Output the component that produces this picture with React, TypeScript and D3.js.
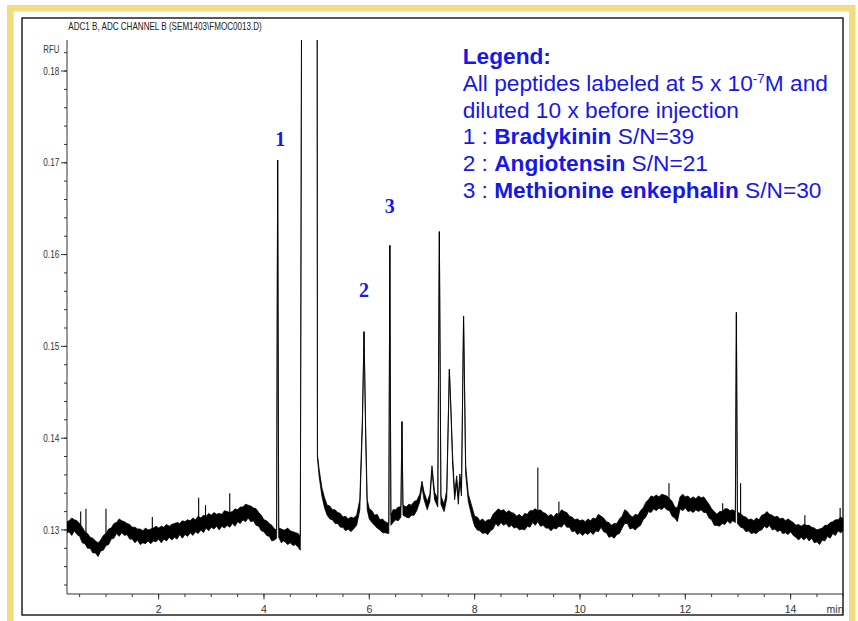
import React from "react";
import * as d3 from "d3";

// [time (min), lower edge of noise band (RFU), upper edge (RFU)]
const trace: [number, number, number][] = [
  [0.26, 0.1297, 0.1309], [0.3, 0.1298, 0.131], [0.35, 0.1294, 0.1313], [0.4, 0.1299, 0.1311],
  [0.45, 0.1295, 0.131], [0.5, 0.1293, 0.1307], [0.55, 0.1286, 0.1303], [0.6, 0.1285, 0.1298],
  [0.65, 0.128, 0.1296], [0.7, 0.128, 0.1292], [0.75, 0.1275, 0.1291], [0.8, 0.1275, 0.1288],
  [0.85, 0.1271, 0.1286], [0.9, 0.1277, 0.1289], [0.95, 0.1278, 0.1294], [1.0, 0.1283, 0.1296],
  [1.05, 0.1284, 0.1301], [1.1, 0.129, 0.1302], [1.15, 0.1291, 0.1307], [1.2, 0.1296, 0.1308],
  [1.25, 0.1293, 0.1312], [1.3, 0.1297, 0.131], [1.35, 0.1294, 0.1309], [1.4, 0.1295, 0.1307],
  [1.45, 0.129, 0.1306], [1.5, 0.129, 0.1303], [1.55, 0.1286, 0.1303], [1.6, 0.1289, 0.1301],
  [1.65, 0.1284, 0.1301], [1.7, 0.1286, 0.1299], [1.75, 0.1285, 0.1302], [1.8, 0.1288, 0.13],
  [1.85, 0.1285, 0.1301], [1.9, 0.1288, 0.1302], [1.95, 0.1287, 0.1304], [2.0, 0.129, 0.1302],
  [2.05, 0.1286, 0.1304], [2.1, 0.129, 0.1303], [2.15, 0.1288, 0.1306], [2.2, 0.1292, 0.1304],
  [2.25, 0.1289, 0.1306], [2.3, 0.1292, 0.1307], [2.35, 0.129, 0.1308], [2.4, 0.1295, 0.1307],
  [2.45, 0.1291, 0.131], [2.5, 0.1295, 0.1309], [2.55, 0.1293, 0.1311], [2.6, 0.1297, 0.131],
  [2.65, 0.1294, 0.1313], [2.7, 0.1298, 0.1311], [2.75, 0.1296, 0.1315], [2.8, 0.13, 0.1313],
  [2.85, 0.1297, 0.1316], [2.9, 0.1302, 0.1315], [2.95, 0.1299, 0.1318], [3.0, 0.1303, 0.1316],
  [3.05, 0.1301, 0.1319], [3.1, 0.1304, 0.1317], [3.15, 0.13, 0.1318], [3.2, 0.1304, 0.1317],
  [3.25, 0.1302, 0.1321], [3.3, 0.1305, 0.132], [3.35, 0.1303, 0.1319], [3.4, 0.1307, 0.132],
  [3.45, 0.1304, 0.1323], [3.5, 0.1309, 0.1322], [3.55, 0.1307, 0.1325], [3.6, 0.1311, 0.1325],
  [3.65, 0.1309, 0.1328], [3.7, 0.1313, 0.1327], [3.75, 0.1309, 0.1326], [3.8, 0.131, 0.1324],
  [3.85, 0.1305, 0.1323], [3.9, 0.1304, 0.1319], [3.95, 0.1299, 0.1316], [4.0, 0.1298, 0.1311],
  [4.05, 0.1294, 0.131], [4.1, 0.1293, 0.1307], [4.15, 0.1288, 0.1305], [4.2, 0.1289, 0.1301],
  [4.24, 0.1291, 0.13], [4.26, 0.1703, 0.1703], [4.28, 0.1292, 0.1302], [4.33, 0.1286, 0.1301],
  [4.37, 0.1288, 0.13], [4.4, 0.1287, 0.13], [4.45, 0.1284, 0.1302], [4.5, 0.1286, 0.1299],
  [4.55, 0.1283, 0.1298], [4.6, 0.1284, 0.1297], [4.65, 0.1281, 0.1296], [4.69, 0.1278, 0.1293],
  [4.715, 0.19, 0.19], [5.01, 0.19, 0.19], [5.015, 0.1378, 0.1382], [5.05, 0.1357, 0.1365],
  [5.1, 0.1337, 0.1346], [5.15, 0.1324, 0.1335], [5.2, 0.1316, 0.1327], [5.25, 0.1312, 0.1326],
  [5.3, 0.1311, 0.1322], [5.35, 0.1307, 0.1322], [5.4, 0.1307, 0.1319], [5.45, 0.1303, 0.1318],
  [5.5, 0.1303, 0.1314], [5.55, 0.1299, 0.1315], [5.6, 0.1301, 0.1312], [5.65, 0.1298, 0.1314],
  [5.7, 0.1301, 0.1313], [5.76, 0.1305, 0.1316], [5.82, 0.1322, 0.1333], [5.87, 0.1415, 0.1425],
  [5.9, 0.1516, 0.1516], [5.93, 0.1404, 0.1415], [5.96, 0.1322, 0.1333], [6.0, 0.1312, 0.1323],
  [6.05, 0.1308, 0.1321], [6.1, 0.1305, 0.1316], [6.15, 0.1302, 0.1317], [6.2, 0.13, 0.1311],
  [6.25, 0.1297, 0.1312], [6.3, 0.1297, 0.1309], [6.37, 0.1296, 0.1307], [6.39, 0.161, 0.161],
  [6.41, 0.1305, 0.1316], [6.45, 0.1308, 0.1322], [6.5, 0.1311, 0.1322], [6.55, 0.131, 0.1325],
  [6.6, 0.1314, 0.1325], [6.62, 0.1418, 0.1418], [6.64, 0.1316, 0.1327], [6.7, 0.1314, 0.1325],
  [6.75, 0.1313, 0.1328], [6.8, 0.1316, 0.1327], [6.85, 0.1316, 0.1331], [6.9, 0.1321, 0.1332],
  [6.96, 0.1331, 0.1339], [7.0, 0.1347, 0.1353], [7.04, 0.1333, 0.1341], [7.1, 0.1322, 0.1331],
  [7.15, 0.1331, 0.1339], [7.19, 0.1365, 0.137], [7.24, 0.1333, 0.1341], [7.3, 0.1325, 0.1334],
  [7.33, 0.1625, 0.1625], [7.36, 0.1328, 0.1337], [7.42, 0.132, 0.1328], [7.47, 0.1334, 0.1343],
  [7.52, 0.1475, 0.1475], [7.55, 0.1429, 0.1433], [7.58, 0.1374, 0.1383], [7.62, 0.1333, 0.1341],
  [7.66, 0.135, 0.1359], [7.69, 0.1328, 0.1337], [7.72, 0.1352, 0.1361], [7.75, 0.1337, 0.1346],
  [7.79, 0.1533, 0.1533], [7.83, 0.1361, 0.137], [7.88, 0.1331, 0.1339], [7.95, 0.1314, 0.1325],
  [8.0, 0.1304, 0.1315], [8.05, 0.13, 0.1314], [8.1, 0.1299, 0.131], [8.15, 0.1296, 0.1312],
  [8.2, 0.1297, 0.1309], [8.25, 0.1295, 0.1311], [8.3, 0.1299, 0.1311], [8.35, 0.1301, 0.1317],
  [8.4, 0.1307, 0.132], [8.45, 0.1304, 0.1323], [8.5, 0.1308, 0.1321], [8.55, 0.1305, 0.1322],
  [8.6, 0.1307, 0.1319], [8.65, 0.1303, 0.1321], [8.7, 0.1305, 0.1319], [8.75, 0.1302, 0.1318],
  [8.8, 0.1303, 0.1315], [8.85, 0.13, 0.1317], [8.9, 0.1301, 0.1314], [8.95, 0.13, 0.1318],
  [9.0, 0.1304, 0.1317], [9.05, 0.1303, 0.1321], [9.1, 0.1308, 0.1321], [9.15, 0.1305, 0.1323],
  [9.2, 0.1309, 0.1321], [9.25, 0.1304, 0.1322], [9.3, 0.1305, 0.1319], [9.35, 0.1302, 0.1318],
  [9.4, 0.1302, 0.1315], [9.45, 0.1299, 0.1317], [9.5, 0.1302, 0.1314], [9.55, 0.1301, 0.1318],
  [9.6, 0.1304, 0.1317], [9.65, 0.1303, 0.1322], [9.7, 0.1307, 0.132], [9.75, 0.1303, 0.1319],
  [9.8, 0.1303, 0.1315], [9.85, 0.1298, 0.1314], [9.9, 0.1299, 0.1311], [9.95, 0.1295, 0.1312],
  [10.0, 0.1297, 0.131], [10.05, 0.1294, 0.1311], [10.1, 0.1297, 0.1309], [10.15, 0.1295, 0.1312],
  [10.2, 0.1298, 0.131], [10.25, 0.1295, 0.1313], [10.3, 0.1299, 0.1312], [10.35, 0.1298, 0.1317],
  [10.4, 0.1303, 0.1315], [10.45, 0.1298, 0.1313], [10.5, 0.1297, 0.1309], [10.55, 0.1292, 0.1308],
  [10.6, 0.1293, 0.1305], [10.65, 0.1291, 0.1307], [10.7, 0.1295, 0.1307], [10.75, 0.1296, 0.1312],
  [10.8, 0.1302, 0.1315], [10.85, 0.1307, 0.1322], [10.9, 0.1307, 0.132], [10.95, 0.1301, 0.1316],
  [11.0, 0.1302, 0.1314], [11.05, 0.13, 0.1317], [11.1, 0.1303, 0.1316], [11.15, 0.1305, 0.1321],
  [11.2, 0.1311, 0.1324], [11.25, 0.1314, 0.133], [11.3, 0.132, 0.1333], [11.35, 0.1319, 0.1337],
  [11.4, 0.1323, 0.1336], [11.45, 0.1321, 0.1338], [11.5, 0.1324, 0.1336], [11.55, 0.1322, 0.1339],
  [11.6, 0.1325, 0.1338], [11.65, 0.1322, 0.1337], [11.7, 0.1321, 0.1334], [11.75, 0.1315, 0.1331],
  [11.8, 0.1313, 0.1325], [11.85, 0.1309, 0.1324], [11.9, 0.1323, 0.1336], [11.95, 0.1321, 0.1339],
  [12.0, 0.1324, 0.1336], [12.05, 0.132, 0.1337], [12.1, 0.1321, 0.1334], [12.15, 0.1319, 0.1336],
  [12.2, 0.1322, 0.1334], [12.25, 0.132, 0.1337], [12.3, 0.1322, 0.1335], [12.35, 0.1319, 0.1336],
  [12.4, 0.1319, 0.1332], [12.45, 0.1313, 0.1328], [12.5, 0.1311, 0.1323], [12.55, 0.1305, 0.132],
  [12.6, 0.1305, 0.1317], [12.65, 0.1304, 0.132], [12.7, 0.1307, 0.132], [12.75, 0.1306, 0.1323],
  [12.8, 0.131, 0.1323], [12.85, 0.1307, 0.1321], [12.9, 0.131, 0.1322], [12.95, 0.1308, 0.132],
  [12.97, 0.1537, 0.1537], [12.99, 0.1307, 0.1319], [13.05, 0.1303, 0.1318], [13.1, 0.1302, 0.1315],
  [13.15, 0.1298, 0.1314], [13.2, 0.1299, 0.1311], [13.25, 0.1296, 0.1312], [13.3, 0.1297, 0.131],
  [13.35, 0.1296, 0.1313], [13.4, 0.1299, 0.1311], [13.45, 0.13, 0.1316], [13.5, 0.1304, 0.1317],
  [13.55, 0.1302, 0.132], [13.6, 0.1305, 0.1317], [13.65, 0.13, 0.1316], [13.7, 0.1301, 0.1314],
  [13.75, 0.1298, 0.1315], [13.8, 0.13, 0.1312], [13.85, 0.1296, 0.1313], [13.9, 0.1297, 0.131],
  [13.95, 0.1295, 0.1312], [14.0, 0.1298, 0.131], [14.05, 0.1294, 0.1308], [14.1, 0.1292, 0.1305],
  [14.15, 0.1289, 0.1306], [14.2, 0.1292, 0.1304], [14.25, 0.1289, 0.1306], [14.3, 0.1292, 0.1305],
  [14.35, 0.1288, 0.1305], [14.4, 0.1291, 0.1303], [14.45, 0.1286, 0.1302], [14.5, 0.1287, 0.13],
  [14.55, 0.1284, 0.1301], [14.6, 0.1289, 0.1302], [14.65, 0.1288, 0.1305], [14.7, 0.1293, 0.1305],
  [14.75, 0.1291, 0.1308], [14.8, 0.1296, 0.1309], [14.85, 0.1294, 0.1311], [14.9, 0.1299, 0.1311],
  [14.95, 0.1297, 0.1314], [15.0, 0.1299, 0.1312],
];

// thin noise spikes: [time, base, top]
const spikes: [number, number, number][] = [
  [0.52, 0.1304, 0.132], [0.62, 0.1297, 0.1323], [1.0, 0.1295, 0.1323], [1.88, 0.13, 0.1314],
  [2.76, 0.1311, 0.1335], [2.89, 0.1313, 0.1327], [3.35, 0.1315, 0.134], [9.2, 0.1315, 0.1368],
  [9.6, 0.1312, 0.1331], [11.69, 0.133, 0.1351], [12.71, 0.1315, 0.1329], [13.05, 0.1312, 0.1351],
  [14.27, 0.13, 0.1316], [14.94, 0.1308, 0.1324],
];

const peakLabels = ["1", "2", "3"];
const peakLabelT = [4.31, 5.9, 6.39];
const peakLabelV = [0.1718, 0.1554, 0.1645];

const xLabelTicks = [2, 4, 6, 8, 10, 12, 14];
const yLabelTicks = [0.13, 0.14, 0.15, 0.16, 0.17, 0.18];

const title = "ADC1 B, ADC CHANNEL B (SEM1403\\FMOC0013.D)";
const legendLines = [
  "All peptides labeled at 5 x 10",
  "diluted 10 x before injection",
];
const compounds = ["Bradykinin", "Angiotensin", "Methionine enkephalin"];
const snValues = [39, 21, 30];

const BLUE = "#1717e8";
const NARROW = "'Liberation Sans Narrow', 'Arial Narrow', 'Liberation Sans', Arial, sans-serif";
const SANS = "'Liberation Sans', Arial, sans-serif";

export default function App() {
  const x = d3.scaleLinear().domain([0.26, 15.0]).range([67, 843.3]);
  const y = d3.scaleLinear().domain([0.12302, 0.18338]).range([594, 40]);

  const area = d3
    .area<[number, number, number]>()
    .x((d) => x(d[0]))
    .y0((d) => y(d[1]))
    .y1((d) => y(d[2]));

  const xMinor = d3.range(0.5, 15.001, 0.5);
  const yMinor = d3.range(0.124, 0.1825, 0.002);

  return (
    <svg
      width={858}
      height={621}
      style={{ position: "absolute", left: 0, top: 0, background: "#fff" }}
    >
      <rect x={0} y={0} width={858} height={621} fill="#fff" />
      <rect x={10.3} y={8.3} width={842} height={640} fill="none" stroke="#f2dc80" strokeWidth={6.6} />
      <rect x={22} y={18} width={821} height={597} fill="none" stroke="#000" strokeWidth={1.3} />

      <text x={68.3} y={30.2} fontFamily={NARROW} fontSize={10.5} fill="#222" textLength={193.5} lengthAdjust="spacingAndGlyphs">
        {title}
      </text>

      <defs>
        <clipPath id="plotclip">
          <rect x={67} y={40} width={776.3} height={554} />
        </clipPath>
      </defs>

      {/* axes */}
      <line x1={67} x2={67} y1={40} y2={594} stroke="#333" strokeWidth={1} />
      <line x1={67} x2={843.3} y1={594} y2={594} stroke="#333" strokeWidth={1} />
      {yMinor.map((v, i) => (
        <line key={"ym" + i} x1={64} x2={67} y1={y(v)} y2={y(v)} stroke="#333" strokeWidth={1} />
      ))}
      {yLabelTicks.map((v) => (
        <g key={"yl" + v}>
          <line x1={61} x2={67} y1={y(v)} y2={y(v)} stroke="#333" strokeWidth={1} />
          <text x={59.3} y={y(v) + 3.6} textAnchor="end" fontFamily={NARROW} fontSize={10.5} fill="#333" textLength={16} lengthAdjust="spacingAndGlyphs">
            {v.toFixed(2)}
          </text>
        </g>
      ))}
      <text x={59.3} y={53.3} textAnchor="end" fontFamily={NARROW} fontSize={10} fill="#333" textLength={16} lengthAdjust="spacingAndGlyphs">
        RFU
      </text>

      {xMinor.map((t, i) => (
        <line key={"xm" + i} x1={x(t)} x2={x(t)} y1={594} y2={597} stroke="#333" strokeWidth={1} />
      ))}
      {xLabelTicks.map((t) => (
        <g key={"xl" + t}>
          <line x1={x(t)} x2={x(t)} y1={594} y2={599.5} stroke="#333" strokeWidth={1} />
          <text x={x(t)} y={613} textAnchor="middle" fontFamily={NARROW} fontSize={10.5} fill="#333">
            {t}
          </text>
        </g>
      ))}
      <text x={843.5} y={613} textAnchor="end" fontFamily={NARROW} fontSize={10.5} fill="#333">
        min
      </text>

      {/* trace */}
      <g clipPath="url(#plotclip)">
        <path d={area(trace) || ""} fill="#000" stroke="#000" strokeWidth={0.8} strokeLinejoin="miter" />
        {spikes.map((s, i) => (
          <line key={"sp" + i} x1={x(s[0])} x2={x(s[0])} y1={y(s[1])} y2={y(s[2])} stroke="#000" strokeWidth={1.1} />
        ))}
      </g>

      {/* peak labels */}
      {peakLabels.map((l, i) => (
        <text key={"pl" + l} x={x(peakLabelT[i])} y={y(peakLabelV[i])} textAnchor="middle" fontFamily="'Liberation Serif', 'Times New Roman', serif" fontWeight="bold" fontSize={20} fill={BLUE}>
          {l}
        </text>
      ))}

      {/* legend */}
      <g fontFamily={SANS} fontSize={22.7} fill={BLUE}>
        <text x={462.7} y={64.3} fontWeight="bold">Legend:</text>
        <text x={462.7} y={91}>
          {legendLines[0]}
          <tspan fontSize={13.5} dy={-8.5}>-7</tspan>
          <tspan dy={8.5}>M and</tspan>
        </text>
        <text x={462.7} y={117.6}>{legendLines[1]}</text>
        {compounds.map((c, i) => (
          <text key={c} x={462.7} y={144.3 + i * 26.7}>
            {i + 1 + " : "}
            <tspan fontWeight="bold">{c}</tspan>
            {" S/N=" + snValues[i]}
          </text>
        ))}
      </g>
    </svg>
  );
}
